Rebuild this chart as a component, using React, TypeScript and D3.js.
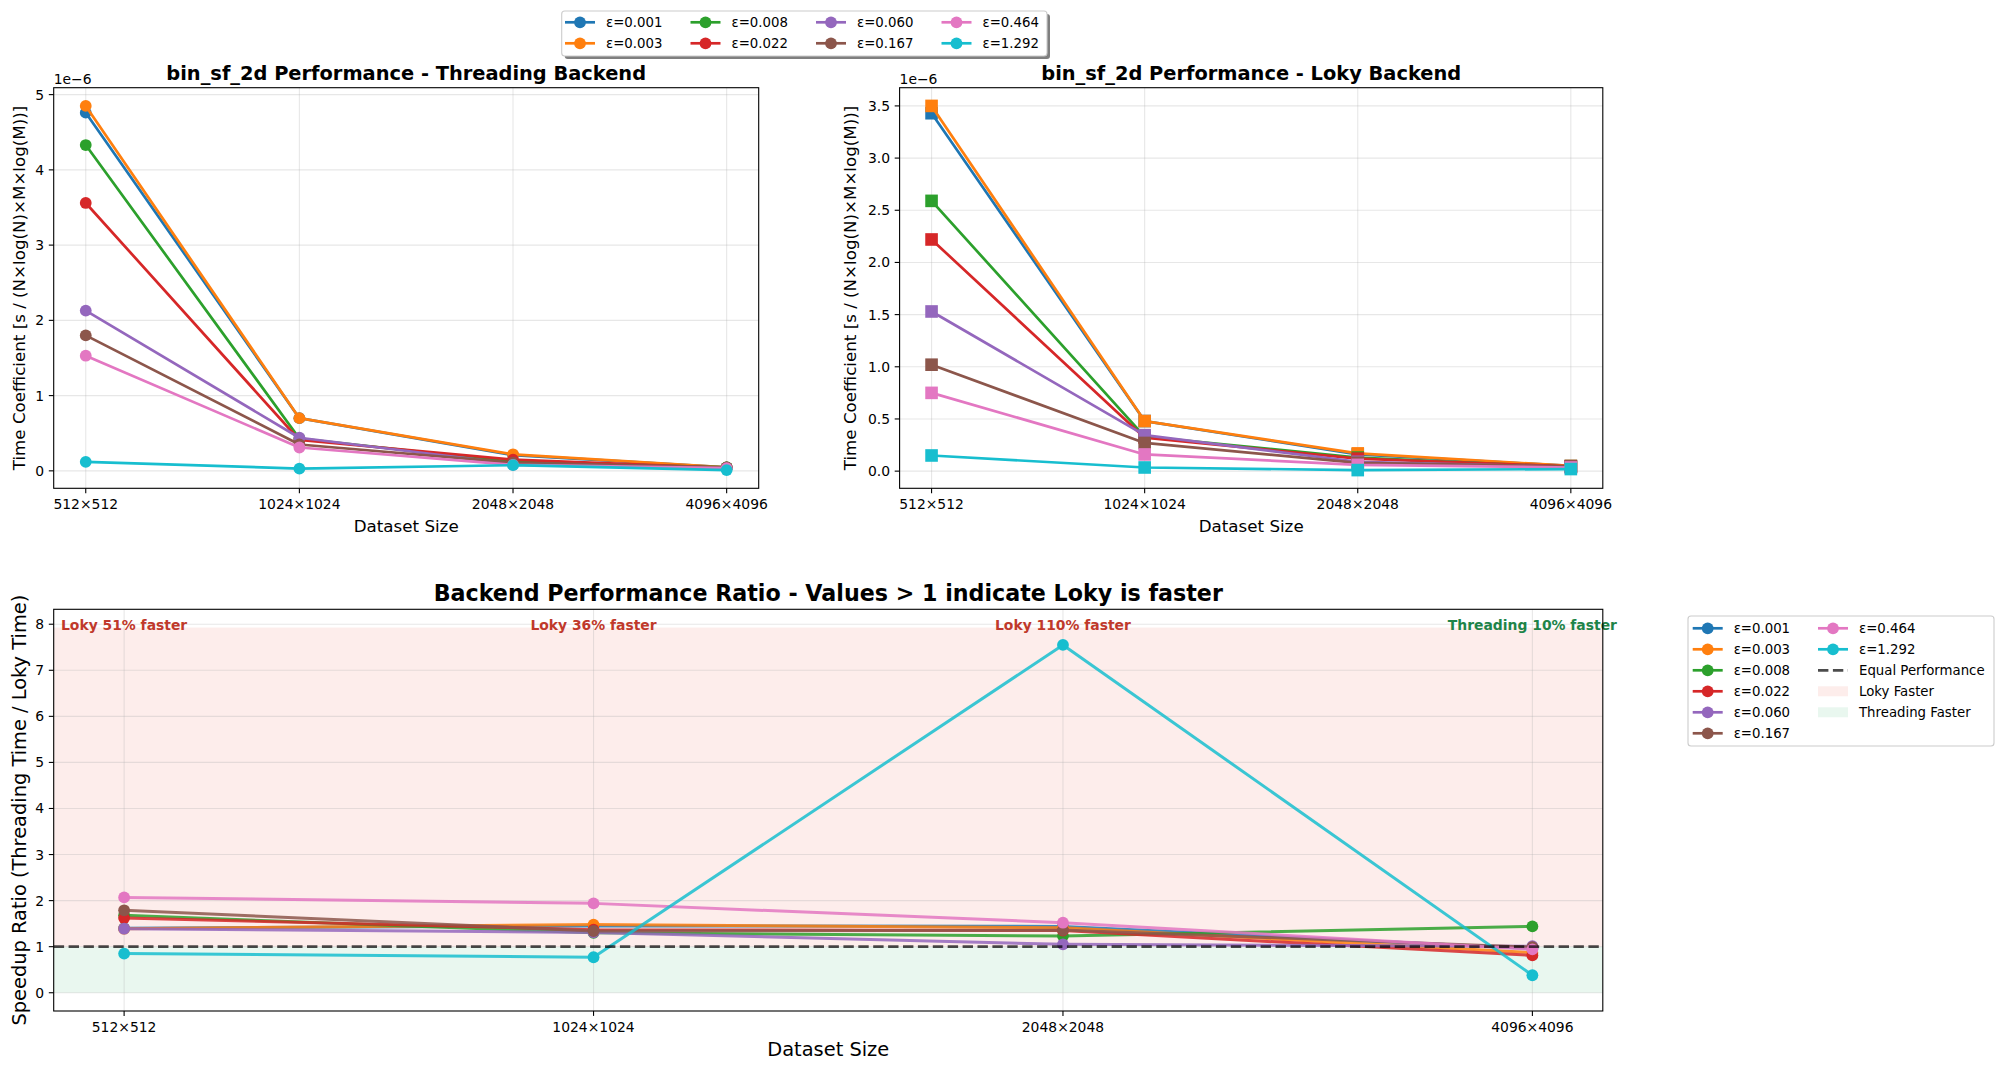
import React, { useEffect, useRef } from 'react';
import * as d3 from 'd3';

const sizes = ['512×512', '1024×1024', '2048×2048', '4096×4096'];
const epsilons = ['0.001', '0.003', '0.008', '0.022', '0.060', '0.167', '0.464', '1.292'];
const colors = ['#1f77b4', '#ff7f0e', '#2ca02c', '#d62728', '#9467bd', '#8c564b', '#e377c2', '#17becf'];

// time coefficients in units of 1e-6, one row per epsilon
const threadingCoef = [
  [4.76, 0.70, 0.21, 0.045],
  [4.85, 0.70, 0.22, 0.045],
  [4.33, 0.43, 0.12, 0.045],
  [3.56, 0.41, 0.15, 0.040],
  [2.13, 0.44, 0.09, 0.040],
  [1.80, 0.35, 0.11, 0.045],
  [1.53, 0.31, 0.08, 0.035],
  [0.12, 0.03, 0.075, 0.010],
];

const lokyCoef = [
  [3.43, 0.48, 0.16, 0.050],
  [3.50, 0.48, 0.17, 0.050],
  [2.59, 0.33, 0.13, 0.040],
  [2.22, 0.32, 0.12, 0.045],
  [1.53, 0.345, 0.09, 0.040],
  [1.02, 0.27, 0.08, 0.045],
  [0.75, 0.16, 0.06, 0.035],
  [0.15, 0.035, 0.01, 0.020],
];

// threading time / loky time
const speedupRatio = [
  [1.40, 1.45, 1.44, 0.96],
  [1.39, 1.48, 1.41, 0.87],
  [1.68, 1.30, 1.23, 1.44],
  [1.62, 1.37, 1.35, 0.81],
  [1.39, 1.31, 1.05, 1.01],
  [1.79, 1.34, 1.36, 0.99],
  [2.07, 1.94, 1.52, 0.94],
  [0.85, 0.77, 7.55, 0.38],
];

const ratioNotes = ['Loky 51% faster', 'Loky 36% faster', 'Loky 110% faster', 'Threading 10% faster'];
const noteIsLoky = [true, true, true, false];

const W = 2004;
const H = 1069;
const FONT = "'DejaVu Sans', sans-serif";
const LOKY_FILL = '#e74c3c';
const THREAD_FILL = '#27ae60';

type Box = { left: number; right: number; top: number; bottom: number };

function drawFrame(g: any, box: Box, x: any, y: any, yTicks: number[], yFmt: (v: number) => string, tickSize: number) {
  // grid
  g.append('g').selectAll('line.gy').data(yTicks).enter().append('line')
    .attr('x1', box.left).attr('x2', box.right)
    .attr('y1', (d: number) => y(d)).attr('y2', (d: number) => y(d))
    .attr('stroke', '#b0b0b0').attr('stroke-opacity', 0.3).attr('stroke-width', 1.1);
  g.append('g').selectAll('line.gx').data(sizes).enter().append('line')
    .attr('x1', (d: string, i: number) => x(i)).attr('x2', (d: string, i: number) => x(i))
    .attr('y1', box.top).attr('y2', box.bottom)
    .attr('stroke', '#b0b0b0').attr('stroke-opacity', 0.3).attr('stroke-width', 1.1);

  // y ticks
  const yt = g.append('g');
  yTicks.forEach((t) => {
    yt.append('line').attr('x1', box.left - 4.9).attr('x2', box.left)
      .attr('y1', y(t)).attr('y2', y(t)).attr('stroke', '#000').attr('stroke-width', 1.1);
    yt.append('text').attr('x', box.left - 9.5).attr('y', y(t))
      .attr('text-anchor', 'end').attr('dominant-baseline', 'central')
      .style('font-family', FONT).style('font-size', '13.9px').text(yFmt(t));
  });
  // x ticks
  const xt = g.append('g');
  sizes.forEach((s, i) => {
    xt.append('line').attr('x1', x(i)).attr('x2', x(i))
      .attr('y1', box.bottom).attr('y2', box.bottom + 4.9).attr('stroke', '#000').attr('stroke-width', 1.1);
    xt.append('text').attr('x', x(i)).attr('y', box.bottom + 20.5)
      .attr('text-anchor', 'middle')
      .style('font-family', FONT).style('font-size', `${tickSize}px`).text(s);
  });
}

function drawSpines(g: any, box: Box) {
  g.append('rect').attr('x', box.left).attr('y', box.top)
    .attr('width', box.right - box.left).attr('height', box.bottom - box.top)
    .attr('fill', 'none').attr('stroke', '#000').attr('stroke-width', 1.1);
}

function drawCoefPanel(svg: any, box: Box, data: number[][], marker: 'circle' | 'square', title: string, yFmt: (v: number) => string, yTicks: number[], ylabelX: number) {
  const g = svg.append('g');
  const x = d3.scaleLinear().domain([-0.15, 3.15]).range([box.left, box.right]);
  const all = data.flat();
  const lo = d3.min(all) as number;
  const hi = d3.max(all) as number;
  const m = (hi - lo) * 0.05;
  const y = d3.scaleLinear().domain([lo - m, hi + m]).range([box.bottom, box.top]);

  drawFrame(g, box, x, y, yTicks, yFmt, 13.9);

  const line = d3.line<number>().x((d, i) => x(i)).y((d) => y(d));
  data.forEach((row, si) => {
    const sg = g.append('g');
    sg.append('path').datum(row).attr('d', line).attr('fill', 'none')
      .attr('stroke', colors[si]).attr('stroke-width', 2.7).attr('stroke-linejoin', 'round');
    if (marker === 'circle') {
      sg.selectAll('circle').data(row).enter().append('circle')
        .attr('cx', (d: number, i: number) => x(i)).attr('cy', (d: number) => y(d))
        .attr('r', 5.9).attr('fill', colors[si]);
    } else {
      sg.selectAll('rect').data(row).enter().append('rect')
        .attr('x', (d: number, i: number) => x(i) - 6.3).attr('y', (d: number) => y(d) - 6.3)
        .attr('width', 12.6).attr('height', 12.6).attr('fill', colors[si]);
    }
  });

  drawSpines(g, box);

  g.append('text').attr('x', box.left).attr('y', box.top - 4)
    .style('font-family', FONT).style('font-size', '13.9px').text('1e−6');
  g.append('text').attr('x', (box.left + box.right) / 2).attr('y', box.top - 8)
    .attr('text-anchor', 'middle').style('font-family', FONT).style('font-size', '19.4px')
    .style('font-weight', 'bold').text(title);
  g.append('text').attr('x', (box.left + box.right) / 2).attr('y', box.bottom + 44)
    .attr('text-anchor', 'middle').style('font-family', FONT).style('font-size', '16.7px')
    .text('Dataset Size');
  g.append('text')
    .attr('transform', `translate(${ylabelX},${(box.top + box.bottom) / 2}) rotate(-90)`)
    .attr('text-anchor', 'middle').attr('dominant-baseline', 'central')
    .style('font-family', FONT).style('font-size', '16.7px')
    .text('Time Coefficient [s / (N×log(N)×M×log(M))]');
}

type LegendItem = { label: string; kind: 'line' | 'dash' | 'patch'; color: string; opacity?: number };

function drawLegend(svg: any, frame: Box, items: LegendItem[], perCol: number, colX: number[], rowY0: number, rowDy: number, shadow: boolean) {
  const g = svg.append('g');
  const w = frame.right - frame.left;
  const h = frame.bottom - frame.top;
  if (shadow) {
    g.append('rect').attr('x', frame.left + 3).attr('y', frame.top + 3).attr('width', w).attr('height', h)
      .attr('rx', 3).attr('fill', '#000').attr('fill-opacity', 0.5);
  }
  g.append('rect').attr('x', frame.left).attr('y', frame.top).attr('width', w).attr('height', h)
    .attr('rx', 3).attr('fill', '#fff').attr('fill-opacity', shadow ? 1 : 0.8)
    .attr('stroke', '#cccccc').attr('stroke-width', 1.1);
  items.forEach((it, k) => {
    const col = Math.floor(k / perCol);
    const row = k % perCol;
    const hx = colX[col];
    const cy = rowY0 + row * rowDy;
    if (it.kind === 'line') {
      g.append('line').attr('x1', hx).attr('x2', hx + 30).attr('y1', cy).attr('y2', cy)
        .attr('stroke', it.color).attr('stroke-width', 2.7);
      g.append('circle').attr('cx', hx + 15).attr('cy', cy).attr('r', 5.9).attr('fill', it.color);
    } else if (it.kind === 'dash') {
      g.append('line').attr('x1', hx).attr('x2', hx + 30).attr('y1', cy).attr('y2', cy)
        .attr('stroke', it.color).attr('stroke-opacity', it.opacity ?? 1)
        .attr('stroke-width', 2.8).attr('stroke-dasharray', '10.4,4.5');
    } else {
      g.append('rect').attr('x', hx).attr('y', cy - 5).attr('width', 30).attr('height', 10)
        .attr('fill', it.color).attr('fill-opacity', it.opacity ?? 1);
    }
    g.append('text').attr('x', hx + 41).attr('y', cy).attr('dominant-baseline', 'central')
      .style('font-family', FONT).style('font-size', '13.3px').text(it.label);
  });
}

const App = () => {
  const svgRef = useRef<SVGSVGElement>(null);

  useEffect(() => {
    const svg = d3.select(svgRef.current);
    svg.selectAll('*').remove();
    svg.append('rect').attr('width', W).attr('height', H).attr('fill', '#fff');

    // top panels
    drawCoefPanel(svg, { left: 53.7, right: 758.7, top: 87.7, bottom: 488.3 }, threadingCoef, 'circle',
      'bin_sf_2d Performance - Threading Backend', (v) => d3.format('d')(v), [0, 1, 2, 3, 4, 5], 19);
    drawCoefPanel(svg, { left: 899.6, right: 1602.8, top: 87.7, bottom: 488.3 }, lokyCoef, 'square',
      'bin_sf_2d Performance - Loky Backend', (v) => d3.format('.1f')(v), [0, 0.5, 1, 1.5, 2, 2.5, 3, 3.5], 850);

    // ratio panel
    const box: Box = { left: 53.7, right: 1602.8, top: 609.3, bottom: 1011 };
    const g = svg.append('g');
    const x = d3.scaleLinear().domain([-0.15, 3.15]).range([box.left, box.right]);
    const fillTop = (d3.max(speedupRatio.flat()) as number) * 1.05;
    const m = fillTop * 0.05;
    const y = d3.scaleLinear().domain([-m, fillTop + m]).range([box.bottom, box.top]);

    g.append('rect').attr('x', box.left).attr('width', box.right - box.left)
      .attr('y', y(fillTop)).attr('height', y(1) - y(fillTop))
      .attr('fill', LOKY_FILL).attr('fill-opacity', 0.1);
    g.append('rect').attr('x', box.left).attr('width', box.right - box.left)
      .attr('y', y(1)).attr('height', y(0) - y(1))
      .attr('fill', THREAD_FILL).attr('fill-opacity', 0.1);

    drawFrame(g, box, x, y, d3.range(0, 9), (v) => d3.format('d')(v), 13.9);

    const line = d3.line<number>().x((d, i) => x(i)).y((d) => y(d));
    speedupRatio.forEach((row, si) => {
      const sg = g.append('g');
      sg.append('path').datum(row).attr('d', line).attr('fill', 'none')
        .attr('stroke', colors[si]).attr('stroke-width', 3).attr('stroke-opacity', 0.85)
        .attr('stroke-linejoin', 'round');
      sg.selectAll('circle').data(row).enter().append('circle')
        .attr('cx', (d: number, i: number) => x(i)).attr('cy', (d: number) => y(d))
        .attr('r', 5.9).attr('fill', colors[si]);
    });

    g.append('line').attr('x1', box.left).attr('x2', box.right).attr('y1', y(1)).attr('y2', y(1))
      .attr('stroke', '#000').attr('stroke-opacity', 0.7).attr('stroke-width', 2.8)
      .attr('stroke-dasharray', '10.4,4.5');

    ratioNotes.forEach((note, i) => {
      g.append('text').attr('x', x(i)).attr('y', y(fillTop) - 3)
        .attr('text-anchor', 'middle').attr('dominant-baseline', 'central')
        .style('font-family', FONT).style('font-size', '13.9px').style('font-weight', 'bold')
        .attr('fill', noteIsLoky[i] ? '#c0392b' : '#1e8449').text(note);
    });

    drawSpines(g, box);

    g.append('text').attr('x', (box.left + box.right) / 2).attr('y', box.top - 8)
      .attr('text-anchor', 'middle').style('font-family', FONT).style('font-size', '22.2px')
      .style('font-weight', 'bold').text('Backend Performance Ratio - Values > 1 indicate Loky is faster');
    g.append('text').attr('x', (box.left + box.right) / 2).attr('y', 1056)
      .attr('text-anchor', 'middle').style('font-family', FONT).style('font-size', '19.4px')
      .text('Dataset Size');
    g.append('text')
      .attr('transform', `translate(19,${(box.top + box.bottom) / 2}) rotate(-90)`)
      .attr('text-anchor', 'middle').attr('dominant-baseline', 'central')
      .style('font-family', FONT).style('font-size', '19.4px')
      .text('Speedup Ratio (Threading Time / Loky Time)');

    // legends
    const epsItems: LegendItem[] = epsilons.map((e, i) => ({ label: `ε=${e}`, kind: 'line', color: colors[i] }));
    drawLegend(svg, { left: 561.7, right: 1047, top: 11, bottom: 56 }, epsItems, 2,
      [565, 690.5, 816, 941.5], 22.3, 21, true);
    drawLegend(svg, { left: 1688, right: 1994, top: 616, bottom: 746 }, [
      ...epsItems,
      { label: 'Equal Performance', kind: 'dash', color: '#000', opacity: 0.7 },
      { label: 'Loky Faster', kind: 'patch', color: LOKY_FILL, opacity: 0.1 },
      { label: 'Threading Faster', kind: 'patch', color: THREAD_FILL, opacity: 0.1 },
    ], 6, [1692.7, 1818], 628.3, 21, false);
  }, []);

  return (
    <svg ref={svgRef} width={W} height={H}
      style={{ position: 'absolute', left: 0, top: 0, display: 'block' }} />
  );
};

export default App;
